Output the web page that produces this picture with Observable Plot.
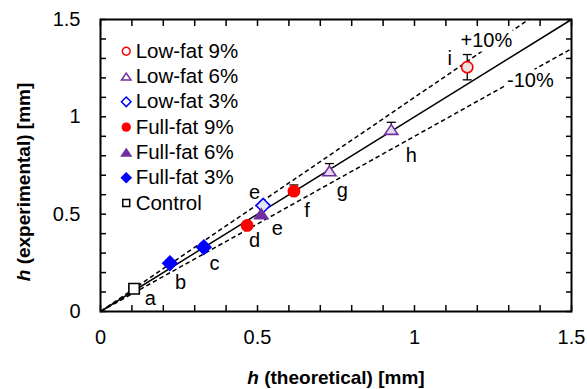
<!DOCTYPE html>
<html><head><meta charset="utf-8">
<script src="https://cdn.jsdelivr.net/npm/d3@7"></script>
<script src="https://cdn.jsdelivr.net/npm/@observablehq/plot@0.6"></script>
<style>
body{margin:0;background:#fff;font-family:"Liberation Sans",Arial,sans-serif}
#chart{position:relative;width:587px;height:389px}
</style>
</head><body><div id="chart"></div>
<script>
// ---- legend series ----
const series = ["Low-fat 9%","Low-fat 6%","Low-fat 3%","Full-fat 9%","Full-fat 6%","Full-fat 3%","Control"];
const seriesSymbol = ["circle","triangle","diamond2","circle","triangle","diamond2","square"];
const seriesColor = ["#ff0000","#7030a0","#0000ff","#ff0000","#7030a0","#0000ff","#000000"];
const seriesFill = ["#ffffff","#ffffff","#ffffff","#ff0000","#7030a0","#0000ff","#ffffff"];
const seriesPointFill = ["#ece4e4","#e3dcef","#e2e6f5","#ff0000","#7030a0","#0000ff","#ffffff"];

// ---- data points ----
const pointSeries = ["Control","Full-fat 3%","Full-fat 3%","Full-fat 9%","Full-fat 6%","Low-fat 3%","Full-fat 9%","Low-fat 6%","Low-fat 6%","Low-fat 9%"];
const pointLabel = ["a","b","c","d","e","e","f","g","h","i"];
const theoretical = [0.107,0.221,0.329,0.467,0.512,0.518,0.616,0.729,0.926,1.168];
const experimental = [0.117,0.248,0.330,0.442,0.502,0.544,0.618,0.722,0.935,1.255];
const errorPlus = [0,0,0,0,0,0,0.032,0.038,0.037,0.065];
const errorMinus = [0,0,0,0,0,0,0,0,0,0.065];

// ---- annotation anchors (data units) ----
const labelX = [0.159,0.255,0.363,0.491,0.563,0.491,0.658,0.770,0.990,1.112];
const labelY = [0.065,0.150,0.245,0.365,0.425,0.613,0.519,0.621,0.801,1.298];
const solidSlopes = [1];
const dashedSlopes = [1.1, 0.9];
const refLabels = ["+10%","-10%"];
const refLabelX = [1.229,1.369];
const refLabelY = [1.392,1.186];

// ---- axes ----
const axisDomain = [0, 1.5];
const majorTicks = [0, 0.5, 1, 1.5];
const minorTicks = d3.range(0, 16).map(i => i / 10);

const font = '"Liberation Sans",Arial,sans-serif';
const idx = d3.range(theoretical.length);
const sIdx = (name) => series.indexOf(name);
// box-centred, slightly flattened triangle (like the spreadsheet marker)
const triSymbol = {draw(ctx, size) {
  const r = Math.sqrt(size / Math.PI), a = 1.15 * r, h = 0.85 * r;
  ctx.moveTo(0, -h); ctx.lineTo(a, h); ctx.lineTo(-a, h); ctx.closePath();
}};
const symbolOf = s => s === "triangle" ? triSymbol : s;
const symbolR = {circle: 5.6, triangle: 5.7, diamond2: 6.4, square: 5.9};
const legendR = {circle: 3.9, triangle: 4.1, diamond2: 4.3, square: 3.9};
const capSymbol = {draw(ctx, size) { const r = Math.sqrt(size / Math.PI); ctx.moveTo(-r, 0); ctx.lineTo(r, 0); }};

const errIdx = idx.filter(i => errorPlus[i] > 0 || errorMinus[i] > 0);
const capData = [
  ...idx.filter(i => errorPlus[i] > 0).map(i => ({x: theoretical[i], y: experimental[i] + errorPlus[i]})),
  ...idx.filter(i => errorMinus[i] > 0).map(i => ({x: theoretical[i], y: experimental[i] - errorMinus[i]}))
];
const legIdx = d3.range(series.length);
const legendX = 0.082, legendTextX = 0.112, legendTop = 1.337, legendStep = 0.130;

const refLine = (slopes, dash) => Plot.link(slopes, {
  x1: () => 0, y1: () => 0,
  x2: k => Math.min(axisDomain[1], axisDomain[1] / k),
  y2: k => Math.min(axisDomain[1], axisDomain[1] / k) * k,
  stroke: "#000", strokeWidth: 1.5, strokeDasharray: dash
});

const plot = Plot.plot({
  width: 587, height: 389,
  marginLeft: 100, marginRight: 16, marginTop: 19, marginBottom: 78,
  x: {domain: axisDomain, label: null},
  y: {domain: axisDomain, label: null},
  r: {type: "identity"},
  style: {fontFamily: font, fontSize: "20px", color: "#000", background: "#fff"},
  marks: [
    refLine(solidSlopes, null),
    refLine(dashedSlopes, "4.5,3"),
    Plot.text(d3.range(refLabels.length), {
      x: i => refLabelX[i], y: i => refLabelY[i], text: i => refLabels[i],
      fontSize: 20, fill: "#000", stroke: "#fff", strokeWidth: 9, strokeLinejoin: "round"
    }),
    // error bars
    Plot.link(errIdx, {
      x1: i => theoretical[i], x2: i => theoretical[i],
      y1: i => experimental[i] - errorMinus[i], y2: i => experimental[i] + errorPlus[i],
      stroke: "#000", strokeWidth: 1.3
    }),
    Plot.dot(capData, {
      x: "x", y: "y", symbol: capSymbol, r: 4.5, stroke: "#000", strokeWidth: 1.3
    }),
    // points
    Plot.dot(idx, {
      x: i => theoretical[i], y: i => experimental[i],
      symbol: i => symbolOf(seriesSymbol[sIdx(pointSeries[i])]),
      r: i => symbolR[seriesSymbol[sIdx(pointSeries[i])]],
      stroke: i => seriesColor[sIdx(pointSeries[i])],
      fill: i => seriesPointFill[sIdx(pointSeries[i])],
      strokeWidth: 1.6
    }),
    Plot.text(idx, {
      x: i => labelX[i], y: i => labelY[i], text: i => pointLabel[i],
      fontSize: 20, fill: "#000"
    }),
    // legend
    Plot.dot(legIdx, {
      x: () => legendX, y: i => legendTop - i * legendStep,
      symbol: i => symbolOf(seriesSymbol[i]), r: i => legendR[seriesSymbol[i]],
      stroke: i => seriesColor[i], fill: i => seriesFill[i], strokeWidth: 1.5
    }),
    Plot.text(legIdx, {
      x: () => legendTextX, y: i => legendTop - i * legendStep, text: i => series[i],
      textAnchor: "start", fontSize: 20.5, fill: "#000"
    }),
    // axes
    Plot.axisX(majorTicks, {anchor: "bottom", tickSize: 0, tickPadding: 18, tickFormat: d => String(d), fontSize: 20, label: null}),
    Plot.axisY(majorTicks, {anchor: "left", tickSize: 0, tickPadding: 20, tickFormat: d => String(d), fontSize: 20, label: null}),
    Plot.axisX(minorTicks, {anchor: "bottom", tickSize: -6, tickFormat: () => "", label: null, strokeWidth: 1.5}),
    Plot.axisX(minorTicks, {anchor: "top", tickSize: -6, tickFormat: () => "", label: null, strokeWidth: 1.5}),
    Plot.axisY(minorTicks, {anchor: "left", tickSize: -6, tickFormat: () => "", label: null, strokeWidth: 1.5}),
    Plot.axisY(minorTicks, {anchor: "right", tickSize: -6, tickFormat: () => "", label: null, strokeWidth: 1.5}),
    Plot.frame({stroke: "#000", strokeWidth: 2})
  ]
});

const svg = d3.select(plot);
const xt = svg.append("text").attr("x", 336).attr("y", 384).attr("text-anchor", "middle")
  .attr("font-family", font).attr("font-size", 19).attr("font-weight", "bold").attr("fill", "#000");
xt.append("tspan").attr("font-style", "italic").text("h");
xt.append("tspan").text(" (theoretical) [mm]");
const yt = svg.append("text").attr("transform", "translate(30,182) rotate(-90)").attr("text-anchor", "middle")
  .attr("font-family", font).attr("font-size", 19).attr("font-weight", "bold").attr("fill", "#000");
yt.append("tspan").attr("font-style", "italic").text("h");
yt.append("tspan").text(" (experimental) [mm]");

document.getElementById("chart").appendChild(plot);
</script>
</body></html>
